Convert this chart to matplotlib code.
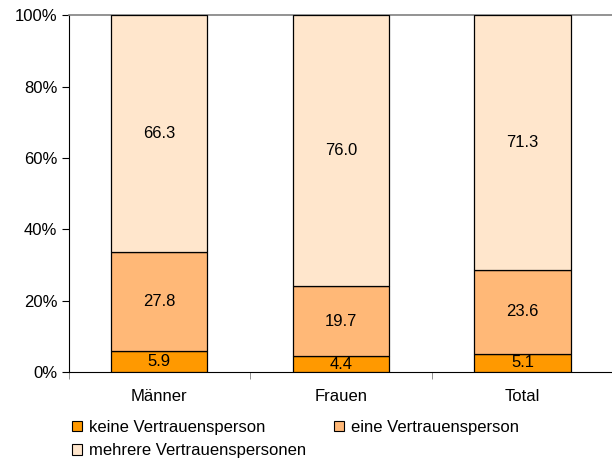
import matplotlib
matplotlib.use("Agg")
import matplotlib.pyplot as plt
import numpy as np
from matplotlib.patches import Patch

categories = ["Männer", "Frauen", "Total"]
keine = [5.9, 4.4, 5.1]
eine = [27.8, 19.7, 23.6]
mehrere = [66.3, 76.0, 71.3]
series_names = ["keine Vertrauensperson", "eine Vertrauensperson", "mehrere Vertrauenspersonen"]
colors = ["#FF9900", "#FFB877", "#FFE6CC"]
yticklabels = ["0%", "20%", "40%", "60%", "80%", "100%"]

plt.rcParams['font.family'] = ['Liberation Sans', 'DejaVu Sans']
plt.rcParams['font.size'] = 12

fig = plt.figure(figsize=(6.12, 4.59), dpi=100)
ax = fig.add_axes([0.112, 0.1895, 0.89, 0.7775])

x = np.arange(len(categories))
w = 0.53
bottom = np.zeros(len(categories))
series = [keine, eine, mehrere]
for vals, c in zip(series, colors):
    vals = np.array(vals)
    ax.bar(x, vals, w, bottom=bottom, color=c, edgecolor="black", linewidth=0.9, zorder=3)
    for xi, b, v in zip(x, bottom, vals):
        ax.text(xi, b + v / 2, f"{v:.1f}", ha="center", va="center", fontsize=12, zorder=4)
    bottom += vals

ax.set_xlim(-0.5, len(categories) - 0.5)
ax.set_ylim(0, 100)
ax.set_yticks(np.linspace(0, 100, 6))
ax.set_yticklabels(yticklabels)
ax.set_xticks(x)
ax.set_xticklabels(categories)
ax.tick_params(axis="x", length=0, pad=12)
ax.set_xticks(np.arange(-0.5, len(categories), 1.0), minor=True)
ax.tick_params(axis="x", which="minor", length=5, color="#808080", direction="out")
ax.tick_params(axis="y", length=5, direction="out", pad=3)

ax.spines["right"].set_visible(False)
ax.spines["top"].set_color("#808080")
ax.spines["top"].set_linewidth(1.2)
ax.spines["left"].set_color("black")
ax.spines["bottom"].set_color("black")

handles = [Patch(facecolor=c, edgecolor="black", linewidth=0.8) for c in colors]
order = [0, 2, 1]
fig.legend([handles[i] for i in order], [series_names[i] for i in order],
           loc="upper left", bbox_to_anchor=(0.118, 0.085), ncol=2, frameon=False,
           handlelength=0.6, handleheight=0.6, handletextpad=0.4,
           columnspacing=1.7, labelspacing=0.5, borderaxespad=0, borderpad=0, fontsize=12)

fig.savefig("out.png", dpi=100)
